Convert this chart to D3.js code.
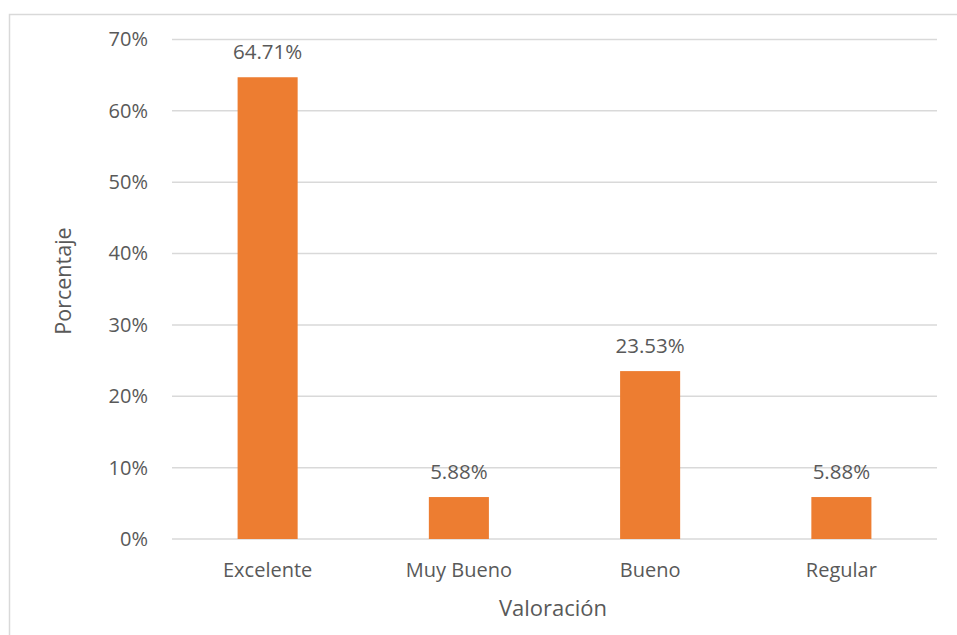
<!DOCTYPE html>
<html>
<head>
<meta charset="utf-8">
<script src="https://cdn.jsdelivr.net/npm/d3@7"></script>
<style>
  html, body { margin: 0; padding: 0; background: #fff; }
  svg { display: block; }
  text { font-family: "Open Sans", sans-serif; fill: #595959; }
</style>
</head>
<body>
<svg id="chart" width="957" height="635"></svg>
<script>
// Survey rating distribution
const categories = ["Excelente", "Muy Bueno", "Bueno", "Regular"];
const values = [64.71, 5.88, 23.53, 5.88];
const yTicks = [0, 10, 20, 30, 40, 50, 60, 70];

const svg = d3.select("#chart");
const W = 957, H = 635;
const plot = { left: 172, right: 937, top: 39.5, bottom: 539 };
const font = "'Open Sans', sans-serif";

// chart frame
svg.append("rect")
  .attr("x", 9.5).attr("y", 14.5)
  .attr("width", W + 20).attr("height", H + 20)
  .attr("fill", "#fff").attr("stroke", "#d9d9d9").attr("stroke-width", 1.5);

const x = d3.scaleBand().domain(categories).range([plot.left, plot.right]).padding(0);
const y = d3.scaleLinear().domain([0, 70]).range([plot.bottom, plot.top]);
const barW = x.bandwidth() * 0.314;

// gridlines
svg.append("g").selectAll("line").data(yTicks).join("line")
  .attr("x1", plot.left).attr("x2", plot.right)
  .attr("y1", d => y(d)).attr("y2", d => y(d))
  .attr("stroke", "#d9d9d9").attr("stroke-width", 1.5);

// y tick labels
const yAxis = d3.axisLeft(y).tickValues(yTicks).tickFormat(d => d + "%").tickSize(0).tickPadding(24);
const gy = svg.append("g").attr("transform", `translate(${plot.left},0)`).call(yAxis);
gy.select(".domain").remove();
gy.selectAll("text").attr("font-size", 20).attr("fill", "#595959").style("font-family", font);

// bars
svg.append("g").selectAll("rect").data(values).join("rect")
  .attr("x", (d, i) => x(categories[i]) + x.bandwidth() / 2 - barW / 2)
  .attr("width", barW)
  .attr("y", d => y(d))
  .attr("height", d => y(0) - y(d))
  .attr("fill", "#ED7D31");

// value labels
svg.append("g").selectAll("text").data(values).join("text")
  .attr("x", (d, i) => x(categories[i]) + x.bandwidth() / 2)
  .attr("y", d => y(d) - 18)
  .attr("text-anchor", "middle")
  .attr("font-size", 20.5)
  .text(d => d.toFixed(2) + "%");

// category labels
const xAxis = d3.axisBottom(x).tickSize(0).tickPadding(24);
const gx = svg.append("g").attr("transform", `translate(0,${plot.bottom})`).call(xAxis);
gx.select(".domain").remove();
gx.selectAll("text").attr("font-size", 20).attr("fill", "#595959").style("font-family", font);

// axis titles
svg.append("text")
  .attr("x", 553).attr("y", 616)
  .attr("text-anchor", "middle").attr("font-size", 22)
  .text("Valoración");

svg.append("text")
  .attr("transform", `translate(71,281) rotate(-90)`)
  .attr("text-anchor", "middle").attr("font-size", 21.5)
  .text("Porcentaje");
</script>
</body>
</html>
